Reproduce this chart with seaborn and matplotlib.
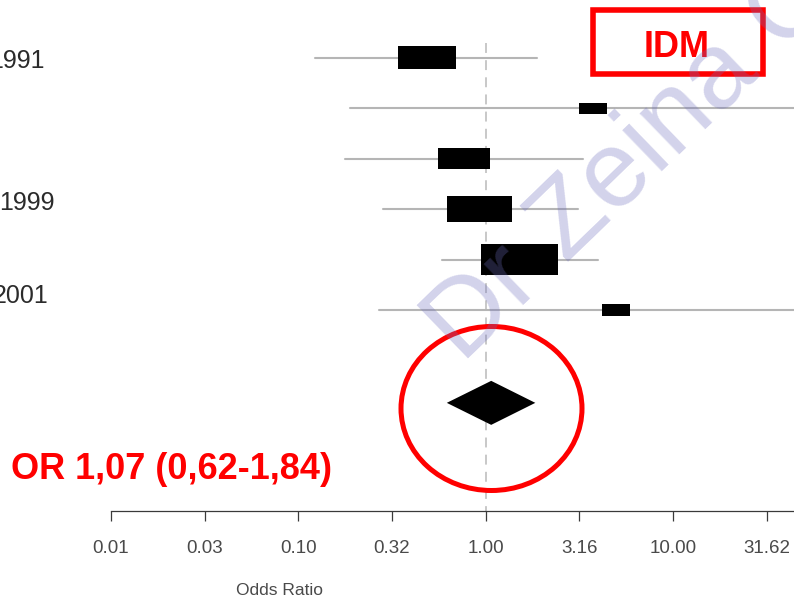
import numpy as np
import pandas as pd
import seaborn as sns
import matplotlib.pyplot as plt
from matplotlib.path import Path
from matplotlib.patches import Rectangle, Ellipse

# Estudios (de arriba a abajo)
rows = [0, 1, 2, 3, 4, 5]
or_est = [0.486, 3.74, 0.766, 0.927, 1.515, 4.96]
ci_low = [0.123, 0.189, 0.177, 0.283, 0.582, 0.269]
ci_high = [1.87, 80.0, 3.31, 3.11, 3.98, 90.0]
weights = [18.8, 4.3, 15.0, 23.4, 33.8, 4.7]

# Estimacion combinada
pooled_row = 6.84
pooled_or = 1.07
pooled_low = 0.62
pooled_high = 1.84

tick_values = [0.01, 10 ** -1.5, 0.1, 10 ** -0.5, 1.0, 10 ** 0.5, 10.0, 10 ** 1.5]
tick_labels = ["0.01", "0.03", "0.10", "0.32", "1.00", "3.16", "10.00", "31.62"]
year_labels = ["1991", "1999", "2001"]
summary_text = "OR 1,07 (0,62-1,84)"
box_text = "IDM"
watermark = "Dr Zeina Ch"

sns.set_style("white")
plt.rcParams["font.family"] = ["Liberation Sans", "DejaVu Sans"]

fig = plt.figure(figsize=(7.94, 5.95), dpi=100)
ax = fig.add_axes([0, 84 / 595, 1, 511 / 595])
ax.set_xscale("log")
ax.set_xlim(10 ** -2.5925, 10 ** 1.6456)
ax.set_ylim(8.983, -1.143)

# linea de referencia OR = 1
ax.vlines(1.0, -0.29, 8.983, colors="#c4c4c4", linestyles=(0, (5.5, 4)),
          linewidth=1.3, zorder=1)

# intervalos de confianza
ci_df = pd.DataFrame({
    "study": np.repeat(rows, 2),
    "x": np.column_stack([ci_low, ci_high]).ravel(),
    "y": np.repeat(rows, 2),
})
sns.lineplot(data=ci_df, x="x", y="y", units="study", estimator=None, sort=False,
             color="#b5b5b5", linewidth=1.5, legend=False, ax=ax)

# cajas (area proporcional al peso)
study_df = pd.DataFrame({"row": rows, "or": or_est, "weight": weights})
box = Path([(-1.275, -0.5), (1.275, -0.5), (1.275, 0.5), (-1.275, 0.5), (-1.275, -0.5)],
           [Path.MOVETO, Path.LINETO, Path.LINETO, Path.LINETO, Path.CLOSEPOLY])
sns.scatterplot(data=study_df, x="or", y="row", size="weight", sizes=(0, 3122),
                size_norm=(0, 33.8), marker=box, color="black", edgecolor="none",
                linewidth=0, legend=False, ax=ax, zorder=3)

# diamante
ax.fill([pooled_low, pooled_or, pooled_high, pooled_or],
        [pooled_row, pooled_row - 0.436, pooled_row, pooled_row + 0.436],
        color="black", linewidth=0, zorder=3)

sns.despine(ax=ax, left=True)
ax.spines["bottom"].set_bounds(0.01, 100)
ax.spines["bottom"].set_color("#3a3a3a")
ax.spines["bottom"].set_linewidth(0.9)
ax.set_xticks(tick_values, tick_labels)
ax.minorticks_off()
ax.set_yticks([])
ax.tick_params(axis="x", bottom=True, direction="out", length=7.2, width=0.9,
               color="#3a3a3a", pad=13.5, labelsize=13.5, labelcolor="#4a4a4a")
ax.set_xlabel("")
ax.set_ylabel("")
ax.patch.set_alpha(0)

# capa de anotaciones en pixeles
ov = fig.add_axes([0, 0, 1, 1], zorder=5)
ov.set_xlim(0, 794)
ov.set_ylim(595, 0)
ov.axis("off")

for lab, x, y in zip(year_labels, [45, 55, 48], [68, 210, 303]):
    ov.text(x, y, lab, ha="right", va="baseline", fontsize=18, color="#2b2b2b")

ov.text(280, 583, "Odds Ratio", ha="center", va="top", fontsize=12.5,
        color="#4a4a4a")

ov.add_patch(Rectangle((593, 10), 170, 64, fill=False, ec="#ff0000", lw=4))
ov.text(677, 57, box_text, ha="center", va="baseline", fontsize=26,
        weight="bold", color="#ff0000")
ov.add_patch(Ellipse((491.5, 408.5), 181, 164, fill=False, ec="#ff0000", lw=3.6))
ov.text(11, 479, summary_text, ha="left", va="baseline", fontsize=26,
        weight="bold", color="#ff0000")

ov.text(462, 364, watermark, rotation=44, rotation_mode="anchor", ha="left",
        va="baseline", fontsize=78, color=(110 / 255, 110 / 255, 190 / 255),
        alpha=0.3, zorder=10)

fig.savefig("out.png", dpi=100)
